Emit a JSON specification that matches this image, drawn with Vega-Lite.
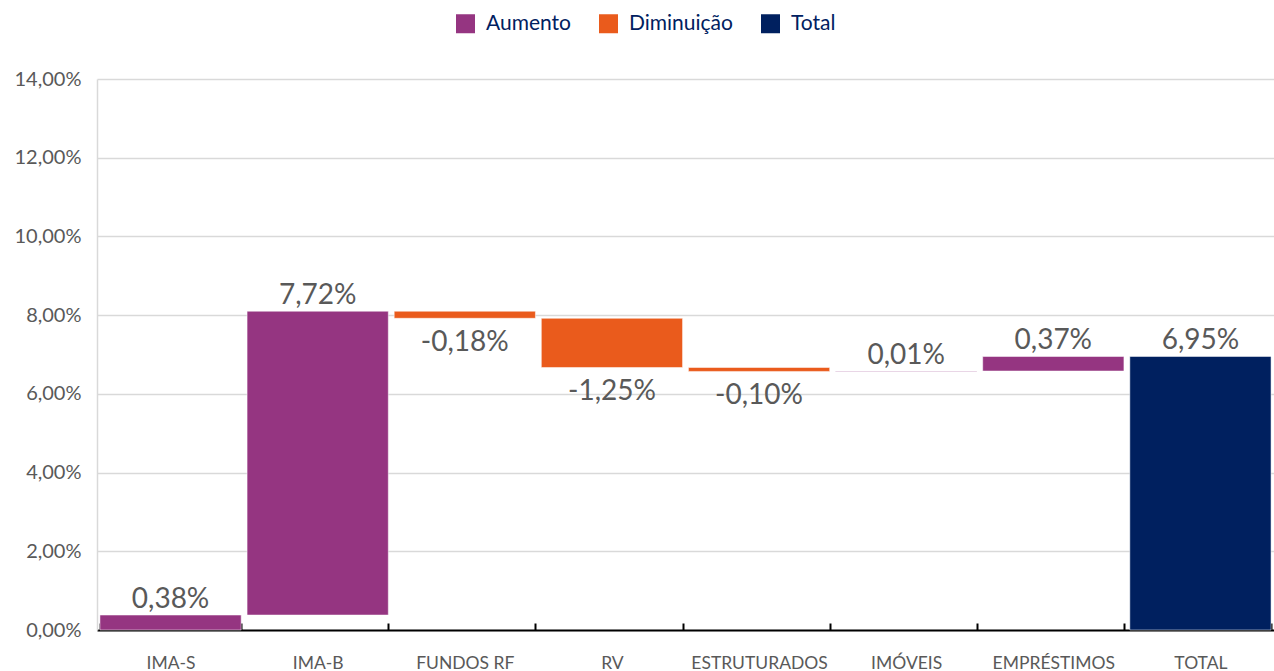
{
  "$schema": "https://vega.github.io/schema/vega-lite/v6.json",
  "width": 1177,
  "height": 551,
  "autosize": {"type": "none"},
  "padding": {"left": 97, "top": 79, "right": 0, "bottom": 41},
  "config": {
    "locale": {"number": {"decimal": ",", "thousands": ".", "grouping": [3], "currency": ["R$", ""], "minus": "-"}},
    "view": {"stroke": null},
    "font": "Lato"
  },
  "data": {
    "values": [
      {"categoria": "IMA-S", "tipo": "Aumento", "inicio": 0, "fim": 0.0038, "valor": 0.0038},
      {"categoria": "IMA-B", "tipo": "Aumento", "inicio": 0.0038, "fim": 0.081, "valor": 0.0772},
      {"categoria": "FUNDOS RF", "tipo": "Diminuição", "inicio": 0.081, "fim": 0.0792, "valor": -0.0018},
      {"categoria": "RV", "tipo": "Diminuição", "inicio": 0.0792, "fim": 0.0667, "valor": -0.0125},
      {"categoria": "ESTRUTURADOS", "tipo": "Diminuição", "inicio": 0.0667, "fim": 0.0657, "valor": -0.001},
      {"categoria": "IMÓVEIS", "tipo": "Aumento", "inicio": 0.0657, "fim": 0.0658, "valor": 0.0001},
      {"categoria": "EMPRÉSTIMOS", "tipo": "Aumento", "inicio": 0.0658, "fim": 0.0695, "valor": 0.0037},
      {"categoria": "TOTAL", "tipo": "Total", "inicio": 0, "fim": 0.0695, "valor": 0.0695}
    ]
  },
  "encoding": {
    "x": {
      "field": "categoria",
      "type": "nominal",
      "sort": null,
      "title": null,
      "scale": {"paddingInner": 0.04, "paddingOuter": 0.02},
      "axis": {
        "labelAngle": 0,
        "labelFontSize": 17.5,
        "labelColor": "#595959",
        "labelPadding": 31,
        "domainColor": "#000000",
        "domainWidth": 2,
        "tickColor": "#000000",
        "tickWidth": 2,
        "tickSize": -7,
        "tickBand": "extent",
        "grid": false
      }
    }
  },
  "layer": [
    {
      "mark": {"type": "bar", "stroke": "#ffffff", "strokeOpacity": 0.5, "strokeWidth": 1},
      "encoding": {
        "y": {
          "field": "inicio",
          "type": "quantitative",
          "title": null,
          "scale": {"domain": [0, 0.14], "nice": false, "zero": true},
          "axis": {
            "values": [0, 0.02, 0.04, 0.06, 0.08, 0.1, 0.12, 0.14],
            "format": ".2%",
            "labelFontSize": 20,
            "labelColor": "#595959",
            "labelPadding": 16,
            "ticks": false,
            "domainColor": "#d9d9d9",
            "domainWidth": 1.5,
            "gridColor": "#d9d9d9",
            "gridWidth": 1.5
          }
        },
        "y2": {"field": "fim"},
        "color": {
          "field": "tipo",
          "type": "nominal",
          "scale": {"domain": ["Aumento", "Diminuição", "Total"], "range": ["#953581", "#EA5B1C", "#00205F"]},
          "legend": {
            "title": null,
            "orient": "none",
            "legendX": 358,
            "legendY": -66,
            "direction": "horizontal",
            "symbolType": "square",
            "symbolSize": 361,
            "symbolStrokeWidth": 0,
            "labelFontSize": 21,
            "labelColor": "#002060",
            "labelOffset": 10,
            "columnPadding": 27
          }
        }
      }
    },
    {
      "transform": [{"filter": "datum.tipo != 'Diminuição'"}],
      "mark": {"type": "text", "baseline": "alphabetic", "dy": -7, "fontSize": 28, "color": "#595959"},
      "encoding": {
        "y": {"field": "fim", "type": "quantitative"},
        "text": {"field": "valor", "type": "quantitative", "format": ".2%"}
      }
    },
    {
      "transform": [{"filter": "datum.tipo == 'Diminuição'"}],
      "mark": {"type": "text", "baseline": "top", "dy": 11, "fontSize": 28, "color": "#595959"},
      "encoding": {
        "y": {"field": "fim", "type": "quantitative"},
        "text": {"field": "valor", "type": "quantitative", "format": ".2%"}
      }
    }
  ]
}
